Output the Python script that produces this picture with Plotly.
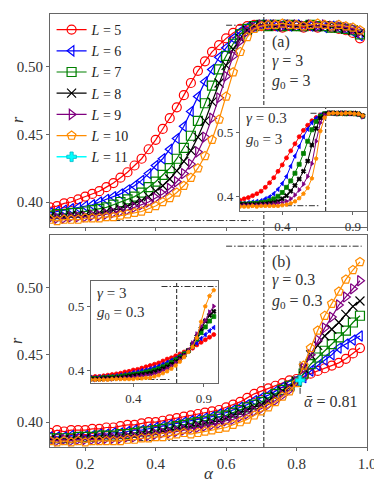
import plotly.graph_objects as go

FONT = "Liberation Serif"

# alpha grids
alpha_main = [0.10, 0.12, 0.14, 0.16, 0.18, 0.20, 0.22, 0.24, 0.26, 0.28,
              0.30, 0.32, 0.34, 0.36, 0.38, 0.40, 0.42, 0.44, 0.46, 0.48,
              0.50, 0.52, 0.54, 0.56, 0.58, 0.60, 0.62, 0.64, 0.66, 0.68,
              0.70, 0.72, 0.74, 0.76, 0.78, 0.80, 0.82, 0.84, 0.86, 0.88,
              0.90, 0.92, 0.94, 0.96, 0.98]
alpha_inset = [0.10, 0.13, 0.16, 0.19, 0.22, 0.25, 0.28, 0.31, 0.34, 0.37,
               0.40, 0.43, 0.46, 0.49, 0.52, 0.55, 0.58, 0.61, 0.64, 0.67,
               0.70, 0.73, 0.76, 0.79, 0.82, 0.85, 0.88, 0.91, 0.94, 0.97]

sizes_L = [5, 6, 7, 8, 9, 10]

# (a) gamma=3, g0=3
r_a = {
    5: [.396, .397, .399, .400, .402, .404, .406, .408, .411, .414,
        .418, .422, .427, .432, .439, .446, .454, .462, .470, .479,
        .488, .497, .504, .511, .516, .521, .525, .528, .530, .531,
        .530, .531, .530, .529, .530, .530, .529, .530, .529, .530,
        .529, .528, .527, .525, .521],
    6: [.392, .393, .394, .395, .396, .397, .398, .400, .402, .404,
        .406, .409, .412, .416, .421, .427, .432, .439, .447, .456,
        .467, .478, .489, .498, .507, .514, .521, .526, .529, .530,
        .531, .531, .530, .531, .530, .531, .530, .530, .530, .529,
        .530, .529, .528, .526, .523],
    7: [.390, .391, .391, .392, .392, .393, .394, .395, .396, .398,
        .400, .402, .404, .407, .411, .415, .420, .425, .432, .440,
        .449, .460, .473, .486, .498, .508, .517, .524, .528, .530,
        .531, .530, .531, .530, .531, .530, .530, .531, .530, .530,
        .529, .529, .528, .527, .524],
    8: [.389, .389, .389, .390, .390, .390, .391, .392, .393, .394,
        .395, .397, .399, .401, .404, .408, .412, .417, .423, .430,
        .438, .448, .460, .474, .488, .501, .513, .521, .527, .530,
        .531, .531, .530, .531, .531, .530, .531, .530, .530, .530,
        .530, .529, .528, .527, .525],
    9: [.388, .388, .388, .389, .389, .389, .390, .390, .391, .392,
        .393, .394, .396, .398, .400, .403, .406, .410, .415, .421,
        .428, .437, .448, .462, .477, .493, .508, .519, .526, .529,
        .531, .531, .531, .530, .531, .531, .530, .531, .530, .531,
        .530, .530, .529, .528, .526],
    10: [.387, .386, .387, .387, .387, .388, .388, .388, .389, .389,
         .390, .391, .392, .393, .395, .397, .400, .403, .407, .412,
         .418, .425, .434, .446, .461, .478, .496, .511, .522, .528,
         .530, .531, .531, .532, .531, .531, .530, .531, .532, .531,
         .530, .531, .530, .529, .527],
}

# (b) gamma=0.3, g0=0.3
r_b = {
    5: [.392, .394, .393, .394, .394, .394, .395, .395, .396, .396,
        .397, .398, .398, .399, .400, .400, .401, .402, .403, .404,
        .405, .406, .407, .408, .409, .411, .413, .415, .418, .421,
        .423, .425, .427, .429, .431, .432, .434, .436, .438, .440,
        .442, .444, .447, .451, .455],
    6: [.389, .389, .389, .390, .389, .390, .390, .391, .391, .392,
        .392, .393, .394, .394, .395, .396, .397, .398, .399, .400,
        .401, .402, .403, .404, .406, .407, .409, .411, .413, .416,
        .418, .420, .423, .426, .428, .431, .433, .438, .442, .446,
        .450, .455, .458, .461, .464],
    7: [.388, .388, .388, .388, .389, .389, .389, .390, .390, .390,
        .391, .391, .392, .393, .393, .394, .395, .396, .397, .398,
        .399, .400, .401, .402, .404, .405, .407, .409, .411, .413,
        .415, .418, .421, .424, .427, .430, .436, .443, .448, .453,
        .458, .463, .468, .474, .479],
    8: [.387, .387, .387, .387, .388, .388, .388, .388, .389, .389,
        .389, .390, .390, .391, .392, .392, .393, .394, .395, .396,
        .397, .398, .399, .400, .401, .403, .405, .407, .409, .411,
        .413, .416, .419, .423, .426, .430, .440, .450, .457, .464,
        .469, .474, .480, .486, .490],
    9: [.386, .386, .387, .386, .387, .387, .387, .387, .388, .388,
        .388, .389, .389, .390, .390, .391, .392, .392, .393, .394,
        .395, .396, .397, .398, .399, .401, .402, .404, .406, .408,
        .410, .413, .416, .420, .424, .430, .440, .450, .461, .470,
        .478, .487, .493, .499, .505],
    10: [.386, .385, .386, .385, .386, .385, .386, .386, .386, .386,
         .386, .387, .387, .388, .388, .389, .389, .390, .391, .392,
         .391, .392, .393, .394, .395, .396, .398, .400, .402, .405,
         .408, .411, .415, .419, .423, .429, .442, .455, .468, .479,
         .488, .497, .506, .513, .519],
}
alpha_L11 = [0.81]
r_L11 = [0.431]

# inset of (a): gamma=0.3, g0=3
r_ia = {
    5: [.395, .397, .399, .402, .405, .409, .415, .422, .430, .440,
        .450, .461, .472, .483, .494, .504, .512, .519, .524, .528,
        .530, .531, .531, .530, .531, .531, .530, .530, .529, .527],
    6: [.390, .390, .391, .392, .393, .394, .397, .400, .405, .412,
        .421, .432, .448, .464, .479, .494, .506, .516, .523, .528,
        .530, .531, .530, .531, .531, .530, .530, .530, .529, .526],
    7: [.389, .389, .389, .390, .390, .391, .392, .394, .397, .401,
        .407, .415, .425, .437, .451, .468, .487, .505, .518, .526,
        .530, .531, .531, .530, .531, .530, .531, .530, .529, .526],
    8: [.388, .388, .388, .388, .388, .389, .389, .390, .391, .393,
        .397, .402, .409, .418, .428, .440, .456, .481, .507, .523,
        .529, .531, .531, .531, .530, .531, .530, .531, .530, .527],
    9: [.387, .387, .387, .387, .387, .388, .388, .388, .389, .390,
        .391, .393, .397, .403, .411, .420, .432, .452, .487, .516,
        .528, .531, .531, .530, .531, .531, .530, .530, .529, .525],
    10: [.385, .385, .385, .386, .385, .386, .386, .386, .386, .386,
         .387, .388, .390, .393, .398, .405, .414, .429, .460, .503,
         .524, .530, .531, .531, .530, .531, .531, .530, .530, .527],
}

# inset of (b): gamma=3, g0=0.3
r_ib = {
    5: [.390, .391, .391, .392, .393, .394, .395, .396, .398, .399,
        .401, .402, .404, .406, .408, .410, .412, .415, .418, .420,
        .423, .426, .429, .432, .435, .440, .444, .448, .452, .456],
    6: [.389, .389, .390, .390, .391, .391, .392, .393, .394, .395,
        .397, .398, .400, .401, .403, .405, .407, .410, .413, .416,
        .419, .423, .427, .431, .437, .443, .450, .456, .462, .467],
    7: [.388, .388, .388, .389, .389, .390, .390, .391, .392, .393,
        .394, .395, .396, .398, .399, .401, .403, .406, .409, .413,
        .417, .421, .426, .431, .439, .449, .459, .468, .477, .484],
    8: [.387, .387, .387, .388, .388, .388, .389, .389, .390, .391,
        .392, .393, .394, .395, .396, .398, .400, .403, .406, .410,
        .414, .419, .424, .431, .441, .453, .465, .477, .486, .492],
    9: [.386, .386, .387, .387, .387, .387, .388, .388, .389, .389,
        .390, .391, .392, .393, .393, .395, .397, .400, .403, .407,
        .412, .417, .423, .431, .443, .457, .469, .478, .491, .500],
    10: [.386, .386, .386, .386, .386, .387, .387, .387, .387, .387,
         .387, .388, .388, .389, .389, .391, .393, .396, .399, .403,
         .408, .414, .421, .429, .437, .451, .476, .500, .516, .525],
}

alpha_star = 0.707
r_goe = 0.5307
r_poisson = 0.3863

colors = {5: "#ff0000", 6: "#0000ff", 7: "#008000", 8: "#000000",
          9: "#800080", 10: "#ff8c00"}
sym_main = {5: "circle-open", 6: "triangle-left-open", 7: "square-open",
            8: "x-thin-open", 9: "triangle-right-open", 10: "pentagon-open"}
sym_inset = {5: "circle", 6: "triangle-left", 7: "square", 8: "x",
             9: "triangle-right", 10: "pentagon"}

fig = go.Figure()


def ref_lines(xa, ya, top_from, top_to, bot_from, bot_to, y_lo, y_hi):
    dd = dict(color="#333", width=1, dash="6px,2px,1.5px,2px")
    fig.add_trace(go.Scatter(x=[top_from, top_to], y=[r_goe, r_goe], mode="lines",
                             line=dd, xaxis=xa, yaxis=ya, showlegend=False, hoverinfo="skip"))
    fig.add_trace(go.Scatter(x=[bot_from, bot_to], y=[r_poisson, r_poisson], mode="lines",
                             line=dd, xaxis=xa, yaxis=ya, showlegend=False, hoverinfo="skip"))
    if y_lo is not None:
        fig.add_trace(go.Scatter(x=[alpha_star, alpha_star], y=[y_lo, y_hi], mode="lines",
                                 line=dict(color="#444", width=1.2, dash="4px,2px"),
                                 xaxis=xa, yaxis=ya, showlegend=False, hoverinfo="skip"))


# main panels
ref_lines("x", "y", 0.60, 0.70, 0.25, 0.677, None, None)
ref_lines("x2", "y2", 0.60, 0.985, 0.25, 0.68, None, None)

for L in sizes_L:
    fig.add_trace(go.Scatter(
        x=alpha_main, y=r_a[L], mode="lines+markers", name=f"<i>L</i> = {L}",
        line=dict(color=colors[L], width=1.2),
        marker=dict(symbol=sym_main[L], size=9, color=colors[L], line=dict(width=1.2, color=colors[L])),
        xaxis="x", yaxis="y", legendrank=L,
    ))
for L in sizes_L:
    fig.add_trace(go.Scatter(
        x=alpha_main, y=r_b[L], mode="lines+markers", showlegend=False,
        line=dict(color=colors[L], width=1.2),
        marker=dict(symbol=sym_main[L], size=9, color=colors[L], line=dict(width=1.2, color=colors[L])),
        xaxis="x2", yaxis="y2",
    ))
fig.add_trace(go.Scatter(
    x=[0.81, 0.81], y=[0.421, 0.446], mode="lines", showlegend=False,
    line=dict(color="#333", width=1, dash="6px,2px,1.5px,2px"), xaxis="x2", yaxis="y2"))
fig.add_trace(go.Scatter(
    x=alpha_L11, y=r_L11, mode="lines+markers", name="<i>L</i> = 11",
    line=dict(color="#00ffff", width=1.5),
    marker=dict(symbol="cross", size=8, color="#00ffff", line=dict(width=0.8, color="#00b8c8")),
    xaxis="x2", yaxis="y2", legendrank=11,
))

# insets
ref_lines("x3", "y3", 0.60, alpha_star, 0.1, 0.667, 0.378, 0.539)
for L in sizes_L:
    fig.add_trace(go.Scatter(
        x=alpha_inset, y=r_ia[L], mode="lines+markers", showlegend=False,
        line=dict(color=colors[L], width=1),
        marker=dict(symbol=sym_inset[L], size=4, color=colors[L], line=dict(width=0.8, color=colors[L])),
        xaxis="x3", yaxis="y3",
    ))
ref_lines("x4", "y4", 0.60, 0.99, 0.1, 0.667, 0.381, 0.539)
for L in sizes_L:
    fig.add_trace(go.Scatter(
        x=alpha_inset, y=r_ib[L], mode="lines+markers", showlegend=False,
        line=dict(color=colors[L], width=1),
        marker=dict(symbol=sym_inset[L], size=4, color=colors[L], line=dict(width=0.8, color=colors[L])),
        xaxis="x4", yaxis="y4",
    ))

ax = dict(showline=True, mirror=True, linecolor="#666", linewidth=1, ticks="outside",
          ticklen=3, tickcolor="#666", showgrid=False, zeroline=False, automargin=False,
          tickfont=dict(family=FONT, size=15, color="#333"))
ax_in = dict(ax, tickfont=dict(family=FONT, size=13, color="#333"), ticklen=3)
y_ticks = [0.40, 0.45, 0.50]
x_ticks = [0.2, 0.4, 0.6, 0.8, 1.0]

# the page body adds an 8px offset, so the figure is drawn 8px smaller
fig.update_layout(
    width=374, height=478,
    margin=dict(l=42, r=15, t=6, b=39),
    paper_bgcolor="white", plot_bgcolor="white",
    font=dict(family=FONT, size=15, color="#222"),
    xaxis=dict(ax, domain=[0, 1], range=[0.1, 1.0], anchor="y", tickvals=x_ticks, showticklabels=False),
    yaxis=dict(ax, domain=[0.508, 1], range=[0.3815, 0.539], anchor="x", tickvals=y_ticks,
               ticktext=["0.40", "0.45", "0.50"]),
    xaxis2=dict(ax, domain=[0, 1], range=[0.1, 1.0], anchor="y2", tickvals=x_ticks,
                ticktext=["0.2", "0.4", "0.6", "0.8", "1.0"]),
    yaxis2=dict(ax, domain=[0, 0.4896], range=[0.3815, 0.539], anchor="x2", tickvals=y_ticks,
                ticktext=["0.40", "0.45", "0.50"]),
    xaxis3=dict(ax_in, domain=[0.599, 1.0], range=[0.1, 1.0], anchor="y3", tickvals=[0.4, 0.9],
                ticktext=["0.4", "0.9"]),
    yaxis3=dict(ax_in, domain=[0.545, 0.783], range=[0.378, 0.539], anchor="x3", tickvals=[0.4, 0.5],
                ticktext=["0.4", "0.5"]),
    xaxis4=dict(ax_in, domain=[0.129, 0.530], range=[0.1, 1.0], anchor="y4", tickvals=[0.4, 0.9],
                ticktext=["0.4", "0.9"]),
    yaxis4=dict(ax_in, domain=[0.148, 0.383], range=[0.381, 0.539], anchor="x4", tickvals=[0.4, 0.5],
                ticktext=["0.4", "0.5"]),
    legend=dict(x=0.005, y=1.0, xanchor="left", yanchor="top", bgcolor="rgba(0,0,0,0)",
                font=dict(family=FONT, size=14, color="#222"), itemwidth=30, tracegroupgap=0),
    showlegend=True,
)

# main vertical dashed line through both panels (hidden behind insets)
fig.add_shape(type="line", xref="x", yref="paper", x0=alpha_star, x1=alpha_star, y0=0, y1=1,
              layer="below", line=dict(color="#444", width=1.2, dash="4px,2px"))

# axis titles
for ty in (0.755, 0.245):
    fig.add_annotation(text="<i>r</i>", xref="paper", yref="paper", x=-0.104, y=ty, textangle=-90,
                       xanchor="center", yanchor="middle", showarrow=False,
                       font=dict(family=FONT, size=16, color="#333"))
fig.add_annotation(text="<i>α</i>", xref="paper", yref="paper", x=0.5, y=-0.062,
                   xanchor="center", yanchor="middle", showarrow=False,
                   font=dict(family=FONT, size=17, color="#333"))

notes = [
    ("(a)", 0.694, 0.935), ("<i>γ</i> = 3", 0.694, 0.892), ("<i>g</i><sub>0</sub> = 3", 0.694, 0.844),
    ("(b)", 0.694, 0.427), ("<i>γ</i> = 0.3", 0.694, 0.385), ("<i>g</i><sub>0</sub> = 0.3", 0.694, 0.336),
    ("<i>ᾱ</i> = 0.81", 0.795, 0.106),
]
for txt, x, y in notes:
    fig.add_annotation(text=txt, xref="paper", yref="paper", x=x, y=y, xanchor="left",
                       yanchor="middle", showarrow=False, font=dict(family=FONT, size=16, color="#333"))

inset_notes = [
    ("<i>γ</i> = 0.3", 0.612, 0.760), ("<i>g</i><sub>0</sub> = 3", 0.612, 0.709),
    ("<i>γ</i> = 3", 0.143, 0.356), ("<i>g</i><sub>0</sub> = 0.3", 0.143, 0.309),
]
for txt, x, y in inset_notes:
    fig.add_annotation(text=txt, xref="paper", yref="paper", x=x, y=y, xanchor="left",
                       yanchor="middle", showarrow=False, font=dict(family=FONT, size=15, color="#333"))

fig.write_html("out.html")
